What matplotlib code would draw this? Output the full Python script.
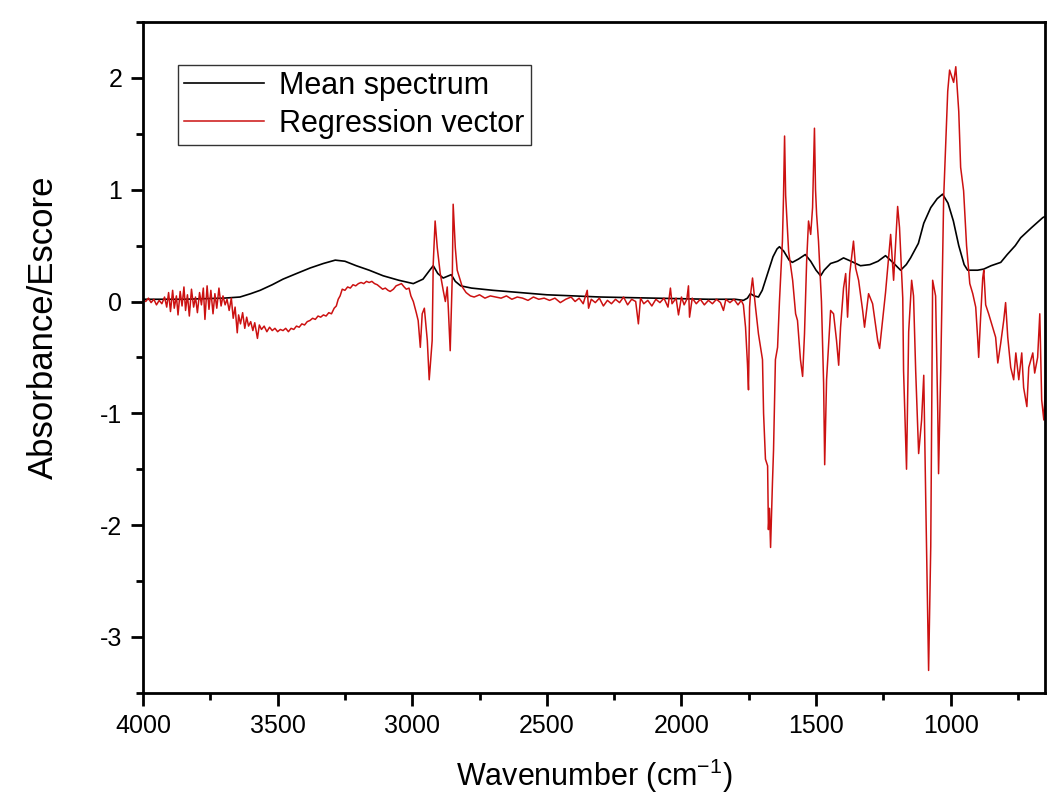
import matplotlib
matplotlib.use("Agg")
import matplotlib.pyplot as plt
from matplotlib.ticker import MultipleLocator

plt.rcParams["font.family"] = ["Liberation Sans", "DejaVu Sans"]
plt.rcParams["axes.unicode_minus"] = False

# mean spectrum (black)
mean_wn = [4000, 3850, 3700, 3640, 3600, 3565, 3520, 3480, 3430, 3379, 3330,
           3286, 3250, 3208, 3160, 3108, 3050, 2996, 2960, 2935, 2922, 2905,
           2885, 2855, 2840, 2820, 2780, 2700, 2600, 2500, 2400, 2300, 2200,
           2100, 2000, 1900, 1800, 1770, 1755, 1744, 1730, 1714, 1700, 1680,
           1660, 1645, 1636, 1620, 1600, 1588, 1565, 1540, 1520, 1500, 1483,
           1470, 1446, 1420, 1398, 1370, 1335, 1300, 1270, 1242, 1215, 1186,
           1165, 1149, 1120, 1100, 1074, 1050, 1030, 1010, 990, 970, 950, 937,
           900, 877, 850, 814, 790, 760, 740, 700, 658, 650]
mean_abs = [0.02, 0.02, 0.03, 0.04, 0.07, 0.10, 0.15, 0.20, 0.25, 0.30, 0.34,
            0.37, 0.36, 0.32, 0.28, 0.23, 0.19, 0.16, 0.20, 0.28, 0.32, 0.25,
            0.21, 0.24, 0.18, 0.14, 0.12, 0.10, 0.08, 0.06, 0.05, 0.04, 0.035,
            0.03, 0.025, 0.02, 0.02, 0.01, 0.03, 0.07, 0.05, 0.04, 0.10, 0.25,
            0.40, 0.47, 0.49, 0.45, 0.37, 0.35, 0.38, 0.42, 0.36, 0.28, 0.23,
            0.28, 0.34, 0.36, 0.39, 0.36, 0.32, 0.33, 0.36, 0.41, 0.35, 0.28,
            0.33, 0.39, 0.52, 0.70, 0.84, 0.92, 0.96, 0.88, 0.72, 0.50, 0.33,
            0.28, 0.28, 0.29, 0.32, 0.35, 0.42, 0.50, 0.57, 0.66, 0.75, 0.76]

# regression vector (red)
reg_wn = [4000, 3990, 3980, 3970, 3960, 3950, 3940, 3930, 3920, 3912, 3905,
          3898, 3890, 3884, 3876, 3870, 3862, 3855, 3848, 3842, 3835, 3828,
          3820, 3812, 3805, 3798, 3790, 3783, 3776, 3770, 3762, 3755, 3748,
          3740, 3733, 3726, 3718, 3710, 3703, 3695, 3688, 3680, 3672, 3665,
          3658, 3650, 3645, 3638, 3630, 3622, 3615, 3608, 3600, 3592, 3585,
          3575, 3568, 3560, 3550, 3540, 3530, 3520, 3510, 3500, 3490, 3480,
          3470, 3460, 3450, 3440, 3430, 3420, 3410, 3400, 3390, 3380, 3370,
          3360, 3350, 3340, 3330, 3320, 3310, 3300, 3290, 3282, 3275, 3268,
          3260, 3250, 3240, 3230, 3220, 3210, 3200, 3190, 3180, 3170, 3160,
          3150, 3140, 3130, 3120, 3110, 3100, 3090, 3082, 3070, 3060, 3050,
          3040, 3030, 3022, 3012, 3005, 2996, 2985, 2978, 2970, 2963, 2955,
          2944, 2937, 2926, 2922, 2915, 2907, 2896, 2885, 2877, 2870, 2866,
          2859, 2851, 2848, 2840, 2833, 2814, 2800, 2784, 2770, 2750, 2730,
          2710, 2690, 2670, 2650, 2630, 2610, 2590, 2570, 2550, 2530, 2510,
          2490, 2470, 2450, 2430, 2410, 2395, 2380, 2365, 2350, 2345, 2335,
          2320, 2305, 2290, 2275, 2260, 2245, 2230, 2215, 2200, 2185, 2170,
          2160, 2152, 2140, 2125, 2110, 2095, 2080, 2065, 2050, 2041, 2035,
          2020, 2011, 2000, 1990, 1980, 1974, 1970, 1960, 1945, 1930, 1915,
          1900, 1885, 1870, 1855, 1844, 1835, 1820, 1805, 1790, 1778, 1770,
          1762, 1755, 1751, 1747, 1744, 1736, 1725, 1714, 1699, 1695, 1688,
          1680, 1677, 1673, 1669, 1662, 1658, 1651, 1643, 1636, 1625, 1621,
          1617, 1613, 1610, 1602, 1587, 1576, 1569, 1558, 1550, 1543, 1535,
          1528, 1520, 1513, 1506, 1502, 1498, 1491, 1480, 1472, 1468, 1461,
          1454, 1446, 1435, 1424, 1416, 1409, 1398, 1390, 1383, 1375, 1361,
          1353, 1342, 1327, 1320, 1305, 1290, 1271, 1264, 1242, 1223, 1212,
          1197, 1190, 1178, 1175, 1164, 1156, 1145, 1138, 1130, 1119, 1108,
          1100, 1093, 1082, 1074, 1067, 1056, 1048, 1045, 1037, 1026, 1011,
          1004, 989, 981, 970, 963, 952, 941, 929, 918, 907, 900, 896, 889,
          881, 877, 870, 859, 844, 833, 825, 814, 803, 796, 788, 777, 766,
          758, 747, 736, 729, 717, 710, 695, 688, 677, 669, 662, 654, 647]
reg_val = [0.02, 0.0, 0.03, -0.01, 0.02, -0.03, 0.01, -0.02, 0.04, -0.05, 0.08,
           -0.09, 0.10, -0.06, 0.05, -0.12, 0.09, -0.04, 0.13, -0.08, 0.06, -0.13,
           0.11, -0.05, 0.04, -0.10, 0.08, -0.03, 0.12, -0.16, 0.14, -0.07, 0.10,
           -0.11, 0.07, -0.06, 0.12, -0.04, 0.05, -0.03, 0.02, -0.08, 0.03, -0.15,
           -0.05, -0.28, -0.12, -0.20, -0.10, -0.24, -0.14, -0.22, -0.18, -0.26, -0.19,
           -0.33, -0.21, -0.25, -0.22, -0.27, -0.23, -0.26, -0.24, -0.27, -0.25, -0.26,
           -0.24, -0.27, -0.24, -0.25, -0.22, -0.23, -0.20, -0.21, -0.18, -0.17, -0.15,
           -0.16, -0.13, -0.14, -0.12, -0.13, -0.10, -0.11, -0.06, -0.04, 0.02, 0.05,
           0.11, 0.10, 0.13, 0.12, 0.15, 0.14, 0.16, 0.17, 0.16, 0.18, 0.17,
           0.18, 0.16, 0.15, 0.13, 0.11, 0.12, 0.10, 0.09, 0.11, 0.14, 0.15,
           0.16, 0.13, 0.11, 0.12, 0.05, 0.0, -0.10, -0.17, -0.41, -0.11, -0.06,
           -0.35, -0.70, -0.35, 0.34, 0.72, 0.48, 0.25, 0.10, 0.0, 0.13, -0.06,
           -0.44, 0.25, 0.87, 0.48, 0.28, 0.13, 0.08, 0.05, 0.04, 0.06, 0.03,
           0.05, 0.04, 0.03, 0.05, 0.02, 0.04, 0.03, 0.01, 0.04, 0.02, 0.03,
           0.01, 0.03, -0.01, 0.02, 0.04, 0.0, 0.03, -0.02, 0.10, -0.06, 0.02,
           -0.01, 0.03, -0.04, 0.01, -0.02, 0.02, -0.01, 0.04, -0.03, 0.02, 0.0,
           -0.20, 0.03, -0.02, 0.01, -0.04, 0.02, -0.01, 0.03, -0.05, 0.12, -0.02,
           0.03, -0.12, 0.04, -0.03, 0.02, 0.14, -0.14, 0.03, -0.02, 0.02, -0.03,
           0.01, -0.02, 0.02, -0.01, -0.08, 0.02, -0.01, 0.02, -0.03, 0.01, -0.03,
           -0.23, -0.55, -0.79, -0.05, 0.05, 0.21, -0.05, -0.29, -0.52, -1.0, -1.41,
           -1.47, -2.04, -1.85, -2.2, -1.62, -1.33, -0.52, -0.41, 0.0, 0.54, 0.93,
           1.48, 0.95, 0.81, 0.45, 0.19, -0.11, -0.17, -0.52, -0.67, -0.29, 0.36,
           0.72, 0.60, 0.84, 1.55, 1.0, 0.78, 0.54, 0.0, -0.73, -1.46, -0.70,
           -0.41, -0.08, -0.11, -0.35, -0.57, -0.23, 0.12, 0.25, -0.14, 0.25, 0.54,
           0.30, 0.19, -0.08, -0.23, 0.07, -0.02, -0.35, -0.42, 0.08, 0.60, 0.19,
           0.85, 0.66, 0.03, -0.62, -1.50, -0.27, 0.19, 0.05, -0.62, -1.36, -1.06,
           -0.66, -1.72, -3.30, -2.19, 0.19, 0.05, -0.99, -1.54, -0.62, 0.93, 1.88,
           2.07, 1.96, 2.10, 1.70, 1.20, 0.99, 0.50, 0.16, 0.07, -0.05, -0.32, -0.50, -0.15,
           0.21, 0.28, -0.03, -0.11, -0.23, -0.32, -0.55, -0.37, -0.17, -0.01, -0.32, -0.59, -0.70,
           -0.46, -0.70, -0.46, -0.77, -0.94, -0.59, -0.46, -0.64, -0.50, -0.11, -0.88, -1.06, -0.70]

fig = plt.figure(figsize=(10.47, 8), dpi=100)
ax = fig.add_axes([0.1366, 0.134, 0.8614, 0.8385])

ax.plot(mean_wn, mean_abs, color="black", lw=1.2, label="Mean spectrum")
ax.plot(reg_wn, reg_val, color="#cc1111", lw=1.1, label="Regression vector")

ax.set_xlim(4000, 650)
ax.set_ylim(-3.5, 2.5)
ax.xaxis.set_major_locator(MultipleLocator(500))
ax.xaxis.set_minor_locator(MultipleLocator(250))
ax.yaxis.set_major_locator(MultipleLocator(1))
ax.yaxis.set_minor_locator(MultipleLocator(0.5))
ax.tick_params(which="major", direction="out", length=9, width=2, labelsize=18,
               top=False, right=False, pad=6)
ax.tick_params(which="minor", direction="out", length=5, width=2,
               top=False, right=False)
for s in ax.spines.values():
    s.set_linewidth(2)

ax.set_xlabel("Wavenumber (cm$^{\\mathregular{-1}}$)", fontsize=22, labelpad=14)
ax.set_ylabel("Absorbance/Escore", fontsize=25)
ax.yaxis.set_label_coords(-0.092, 0.545)

leg = ax.legend(loc="upper left", bbox_to_anchor=(0.039, 0.936), fontsize=22,
                frameon=True, fancybox=False, handlelength=2.6,
                borderpad=0.2, labelspacing=0.25, handletextpad=0.5,
                borderaxespad=0)
leg.get_frame().set_edgecolor("black")
leg.get_frame().set_linewidth(1)

fig.savefig("out.png", dpi=100)
